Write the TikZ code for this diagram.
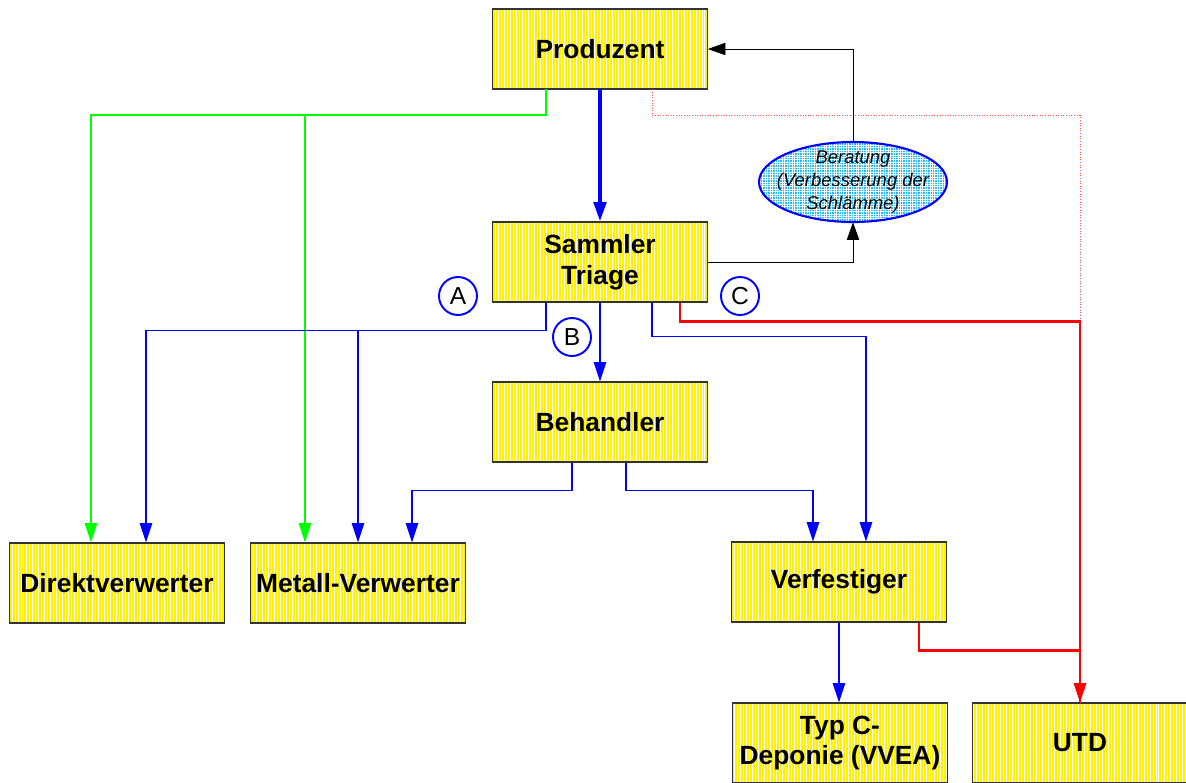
\documentclass[tikz,border=0pt]{standalone}
\usepackage{fontspec}
\setmainfont{Liberation Sans}
\usetikzlibrary{arrows.meta, shapes.geometric, patterns.meta}

\begin{document}
\begin{tikzpicture}[x=0.02cm, y=-0.02cm,
    stelle/.style={draw=black!80, line width=0.6pt, minimum width=4.3cm, minimum height=1.6cm,
        inner sep=0pt, align=center, font=\fontsize{15}{17.5}\selectfont\bfseries,
        preaction={fill=yellow},
        pattern={Lines[angle=90, distance=1.7pt, line width=0.45pt]}, pattern color=white},
    beratung/.style={ellipse, draw=blue, line width=1.2pt, minimum width=3.76cm, minimum height=1.6cm,
        inner xsep=-8pt, inner ysep=-4pt, align=center, font=\fontsize{10.5}{13}\selectfont\itshape,
        preaction={fill=cyan!85},
        pattern={Hatch[angle=0, distance=1.4pt, line width=0.3pt]}, pattern color=white},
    marke/.style={circle, draw=blue, line width=1.1pt, minimum size=0.76cm, inner sep=0pt,
        font=\fontsize{14}{16}\selectfont},
    pfeil/.style={-{Triangle[length=11pt, width=7pt]}},
    blau/.style={draw=blue, line width=1.1pt, pfeil},
    gruen/.style={draw=green, line width=1.1pt, pfeil},
    rot/.style={draw=red, line width=1.2pt},
    schwarz/.style={draw=black, line width=0.5pt, -{Triangle[length=10pt, width=7pt]}}
    ]

    \useasboundingbox (0, 0) rectangle (1186, 782);

    \node[stelle] (prod) at (600, 49) {Produzent};
    \node[stelle] (sam) at (600, 262) {Sammler\\Triage};
    \node[stelle] (beh) at (600, 422) {Behandler};
    \node[stelle] (dv) at (117, 583) {Direktverwerter};
    \node[stelle] (mv) at (358, 583) {Metall-Verwerter};
    \node[stelle] (ver) at (839, 582) {Verfestiger};
    \node[stelle] (typc) at (840, 743) {Typ C-\\Deponie (VVEA)};
    \node[stelle] (utd) at (1080, 743) {UTD};
    \node[beratung] (ber) at (853, 182) {Beratung\\(Verbesserung der\\Schlämme)};

    \node[marke] (mA) at (458, 296) {A};
    \node[marke] (mB) at (572, 337) {B};
    \node[marke] (mC) at (740, 296) {C};

    \coordinate (gbr) at (305, 115);
    \coordinate (bbr) at (358, 330);

    \begin{scope}
        \draw[gruen] ([xshift=-1.08cm]prod.south) -- ++(0, 26) -| ([xshift=-0.52cm]dv.north);
        \draw[gruen] (gbr) -- (mv.north -| gbr);

        \draw[red!70, line width=0.5pt, densely dotted] ([xshift=1.04cm]prod.south) -- ++(0, 26) -| (utd.north);
        \draw[rot] ([xshift=1.6cm]ver.south) -- ++(0, 28) -| (utd.north);
        \draw[rot, pfeil] ([xshift=1.6cm]sam.south) -- ++(0, 19) -| (utd.north);

        \draw[blue, line width=2.3pt, -{Triangle[length=11pt, width=7pt]}] (prod.south) -- (sam.north);

        \draw[schwarz] (ber.north) |- (prod.east);
        \draw[schwarz] (sam.east) -| (ber.south);

        \draw[blau] ([xshift=-1.08cm]sam.south) -- ++(0, 28) -| ([xshift=0.58cm]dv.north);
        \draw[blau] (bbr) -- (mv.north -| bbr);
        \draw[blau] (sam.south) -- (beh.north);
        \draw[blau] ([xshift=1.04cm]sam.south) -- ++(0, 34) -| ([xshift=0.54cm]ver.north);

        \draw[blau] ([xshift=-0.56cm]beh.south) -- ++(0, 28) -| ([xshift=1.08cm]mv.north);
        \draw[blau] ([xshift=0.52cm]beh.south) -- ++(0, 28) -| ([xshift=-0.52cm]ver.north);

        \draw[blau] (ver.south) -- (ver.south |- typc.north);
    \end{scope}

\end{tikzpicture}
\end{document}
